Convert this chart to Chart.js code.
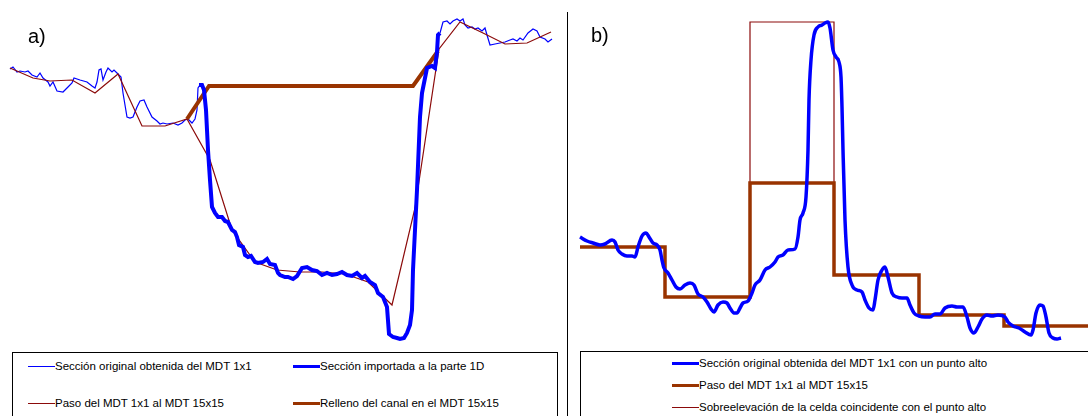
<!DOCTYPE html>
<html>
<head>
<meta charset="utf-8">
<script src="https://cdn.jsdelivr.net/npm/chart.js@4/dist/chart.umd.min.js"></script>
<style>
  html, body { margin: 0; padding: 0; background: #fff; }
  #page { position: relative; width: 1088px; height: 416px; overflow: hidden; font-family: 'Liberation Sans', Arial, sans-serif; }
  canvas { position: absolute; top: 0; }
  #chartA { left: 0; }
  #chartB { left: 568px; }
  .tag { position: absolute; font-size: 20px; line-height: 1; color: #000; }
  .sep { position: absolute; left: 567px; top: 12px; width: 1px; height: 404px; background: #000; }
  .legend { position: absolute; border: 1px solid #000; background: #fff; height: 90px; }
  .item { position: absolute; font-size: 11.5px; line-height: 14px; color: #000; white-space: nowrap; }
  .item i { position: absolute; top: 7px; display: block; }
</style>
</head>
<body>
<div id="page">
  <canvas id="chartA" width="567" height="350"></canvas>
  <canvas id="chartB" width="520" height="350"></canvas>
  <div class="tag" style="left:28px; top:26px;">a)</div>
  <div class="tag" style="left:591px; top:25px;">b)</div>
  <div class="sep"></div>
  <div class="legend" id="legendA" style="left:12px; top:352px; width:544px;"></div>
  <div class="legend" id="legendB" style="left:580px; top:351px; width:520px;"></div>
</div>
<script>
// a) distance (m) / elevation (m)
const origLeftDist = [0, 3, 7, 10, 15, 18, 22, 27, 30, 33, 38, 40, 43, 47, 53, 58, 62, 64, 70, 77, 82, 85, 87, 89, 91, 93, 96, 98, 102, 104, 107, 111, 113, 117, 120, 123, 127, 130, 134, 137, 142, 147, 150, 153, 157, 163, 168, 172, 175, 178, 182, 185, 187, 188, 190, 192];
const origLeftElev = [28.1, 28.3, 27.8, 27.9, 27.8, 27.9, 27.5, 27.3, 27.7, 27.2, 26.8, 26.4, 26.8, 25.9, 25.8, 26.3, 26.7, 27.2, 27.0, 26.8, 26.4, 26.2, 26.8, 28.0, 28.1, 27.0, 27.8, 28.2, 27.8, 28.0, 27.7, 27.3, 25.7, 23.3, 23.2, 23.3, 24.3, 24.9, 25.0, 24.3, 23.3, 22.9, 22.6, 22.7, 22.6, 22.7, 22.5, 22.7, 23.0, 23.1, 22.7, 23.1, 24.0, 26.2, 26.5, 26.4];
const origRightDist = [430, 433, 437, 440, 443, 447, 450, 453, 455, 458, 462, 465, 468, 472, 475, 477, 480, 485, 490, 495, 500, 503, 507, 510, 513, 518, 523, 527, 530, 535, 538, 542];
const origRightElev = [31.7, 32.8, 32.9, 32.6, 32.9, 33.1, 32.9, 33.1, 32.5, 32.2, 32.3, 32.1, 32.2, 31.9, 32.2, 31.5, 30.5, 30.6, 30.7, 30.8, 31.0, 31.1, 30.9, 31.2, 31.0, 31.7, 32.1, 31.9, 31.3, 31.1, 30.8, 31.1];

const importDist = [189, 192, 194, 196, 198, 200, 202, 205, 208, 212, 215, 218, 222, 225, 227, 229, 233, 235, 238, 241, 245, 248, 253, 257, 260, 265, 268, 270, 275, 278, 283, 287, 292, 297, 302, 307, 312, 317, 322, 327, 332, 337, 342, 347, 352, 355, 360, 365, 368, 373, 377, 379, 383, 387, 390, 394, 397, 400, 402, 403, 405, 407, 410, 412, 414, 417, 422, 425, 427, 428, 430];
const importElev = [26.5, 26.5, 26.0, 24.0, 20.0, 17.0, 14.3, 13.7, 13.3, 13.3, 12.9, 12.8, 12.0, 11.8, 11.3, 10.5, 10.3, 9.5, 9.3, 9.4, 8.8, 8.7, 8.8, 9.1, 8.6, 8.5, 7.7, 7.5, 7.3, 7.3, 7.1, 7.4, 8.2, 8.3, 8.0, 7.9, 7.5, 7.7, 7.5, 7.6, 7.8, 7.5, 7.4, 7.7, 7.2, 7.4, 6.8, 6.5, 5.7, 5.3, 4.3, 1.6, 1.3, 1.2, 1.1, 1.2, 1.7, 2.5, 4.0, 8.0, 12.0, 16.0, 23.3, 25.7, 26.7, 28.2, 28.4, 28.2, 29.8, 31.5, 31.7];

const mdt15Dist = [0, 23, 40, 62, 85, 108, 132, 155, 177, 200, 222, 245, 267, 290, 312, 335, 358, 382, 405, 429, 450, 473, 495, 517, 541];
const mdt15Elev = [28.2, 27.2, 26.9, 27.0, 25.7, 27.6, 22.4, 22.4, 23.1, 19.0, 12.0, 8.8, 8.0, 7.8, 7.8, 7.6, 6.8, 4.5, 14.2, 30.1, 32.8, 31.7, 30.6, 30.7, 31.8];

const fillDist = [177, 199, 403, 428];
const fillElev = [23.1, 26.4, 26.4, 29.9];

// b) distance (m) / elevation (m)
const highDist = [0, 7, 13, 20, 25, 32, 35, 38, 42, 47, 52, 55, 58, 62, 66, 69, 73, 77, 80, 82, 84, 88, 92, 96, 100, 105, 110, 114, 118, 123, 127, 131, 134, 138, 143, 147, 150, 154, 157, 160, 163, 168, 172, 175, 180, 185, 190, 195, 198, 203, 208, 215, 218, 220, 223, 226, 228, 229, 231, 234, 238, 242, 245, 248, 250, 253, 256, 259, 261, 262, 263, 265, 268, 272, 277, 282, 285, 289, 293, 295, 298, 302, 305, 308, 312, 317, 322, 327, 330, 334, 339, 345, 350, 355, 360, 365, 372, 377, 383, 387, 390, 394, 398, 402, 407, 412, 418, 425, 428, 433, 439, 445, 451, 453, 456, 460, 463, 466, 469, 473, 477, 481];
const highElev = [11.3, 10.9, 10.7, 10.5, 10.6, 11.0, 10.8, 10.0, 9.6, 9.4, 9.4, 9.3, 10.3, 11.4, 11.7, 11.3, 10.7, 10.5, 10.0, 9.0, 8.2, 7.7, 7.0, 6.3, 6.1, 6.5, 6.7, 6.5, 5.6, 5.3, 4.8, 4.1, 3.8, 4.5, 4.8, 4.7, 4.2, 3.7, 3.7, 4.2, 4.7, 4.9, 5.7, 6.5, 7.0, 8.0, 8.3, 8.8, 9.3, 9.5, 10.0, 10.1, 11.3, 13.0, 13.7, 15.3, 20.0, 25.0, 29.0, 31.5, 32.3, 32.5, 32.7, 32.8, 32.2, 30.0, 29.3, 28.8, 27.3, 24.3, 20.0, 13.0, 8.3, 6.5, 6.0, 5.8, 5.0, 4.2, 4.0, 5.0, 7.0, 8.0, 8.3, 7.3, 5.7, 5.3, 5.2, 5.2, 4.5, 3.7, 3.4, 3.3, 3.3, 3.6, 3.6, 4.2, 4.4, 4.3, 4.3, 3.3, 2.2, 1.7, 2.3, 3.1, 3.5, 3.4, 3.5, 3.3, 2.8, 2.4, 2.2, 1.8, 1.5, 2.0, 3.7, 4.5, 4.4, 3.3, 1.7, 1.2, 1.1, 1.2];

const cellStart = [0, 85, 170, 254, 339, 424, 508];
const cellElev = [10.3, 5.3, 16.7, 7.5, 3.5, 2.4, 2.4];
const cellRaised = [10.3, 5.3, 32.8, 7.5, 3.5, 2.4, 2.4];

const legendA = [
  ['Sección original obtenida del MDT 1x1', '#0000ff', 1, 28, 366],
  ['Sección importada a la parte 1D', '#0000ff', 3, 293, 366],
  ['Paso del MDT 1x1 al MDT 15x15', '#8b0a0a', 1, 28, 403],
  ['Relleno del canal en el MDT 15x15', '#993300', 3, 293, 403],
];
const legendB = [
  ['Sección original obtenida del MDT 1x1 con un punto alto', '#0000ff', 3, 672, 363],
  ['Paso del MDT 1x1 al MDT 15x15', '#993300', 3, 672, 385],
  ['Sobreelevación de la celda coincidente con el punto alto', '#8b0a0a', 1, 672, 407],
];

const pts = (xs, ys) => xs.map((x, i) => ({ x, y: ys[i] }));

const lineSet = (data, color, width, order, extra = {}) => ({
  data,
  borderColor: color,
  backgroundColor: color,
  borderWidth: width,
  pointRadius: 0,
  showLine: true,
  fill: false,
  tension: 0,
  order,
  ...extra,
});

const baseOptions = (xMin, xMax) => ({
  responsive: false,
  animation: false,
  devicePixelRatio: 1,
  layout: { padding: 0 },
  plugins: { legend: { display: false }, tooltip: { enabled: false } },
  scales: {
    x: { type: 'linear', display: false, min: xMin, max: xMax },
    y: { type: 'linear', display: false, min: 0, max: 35 },
  },
});

new Chart(document.querySelector('#chartA'), {
  type: 'scatter',
  data: {
    datasets: [
      lineSet(pts(importDist, importElev), '#0000ff', 4, 1),
      lineSet(pts(fillDist, fillElev), '#993300', 4, 2),
      lineSet(pts(mdt15Dist, mdt15Elev), '#8b0a0a', 1.2, 3),
      lineSet(pts(origLeftDist, origLeftElev), '#0000ff', 1.2, 4),
      lineSet(pts(origRightDist, origRightElev), '#0000ff', 1.2, 4),
    ],
  },
  options: baseOptions(-10, 557),
});

new Chart(document.querySelector('#chartB'), {
  type: 'scatter',
  data: {
    datasets: [
      lineSet(pts(highDist, highElev), '#0000ff', 3.5, 1, { cubicInterpolationMode: 'monotone' }),
      lineSet(pts(cellStart, cellElev), '#993300', 3.5, 2, { stepped: 'before' }),
      lineSet(pts(cellStart, cellRaised), '#8b0a0a', 1.2, 3, { stepped: 'before' }),
    ],
  },
  options: baseOptions(-12, 508),
});

// legends
const drawLegend = (boxId, items, boxLeft, boxTop) => {
  const box = document.getElementById(boxId);
  items.forEach(([label, color, width, x, y]) => {
    const el = document.createElement('div');
    el.className = 'item';
    el.style.left = x - boxLeft - 1 + 'px';
    el.style.top = y - boxTop - 8 + 'px';
    el.style.paddingLeft = '27px';
    const mark = document.createElement('i');
    mark.style.left = '0px';
    mark.style.width = '27px';
    mark.style.borderTop = `${width}px solid ${color}`;
    mark.style.marginTop = `${-Math.floor(width / 2)}px`;
    el.appendChild(mark);
    el.appendChild(document.createTextNode(label));
    box.appendChild(el);
  });
};

drawLegend('legendA', legendA, 12, 352);
drawLegend('legendB', legendB, 580, 351);
</script>
</body>
</html>
